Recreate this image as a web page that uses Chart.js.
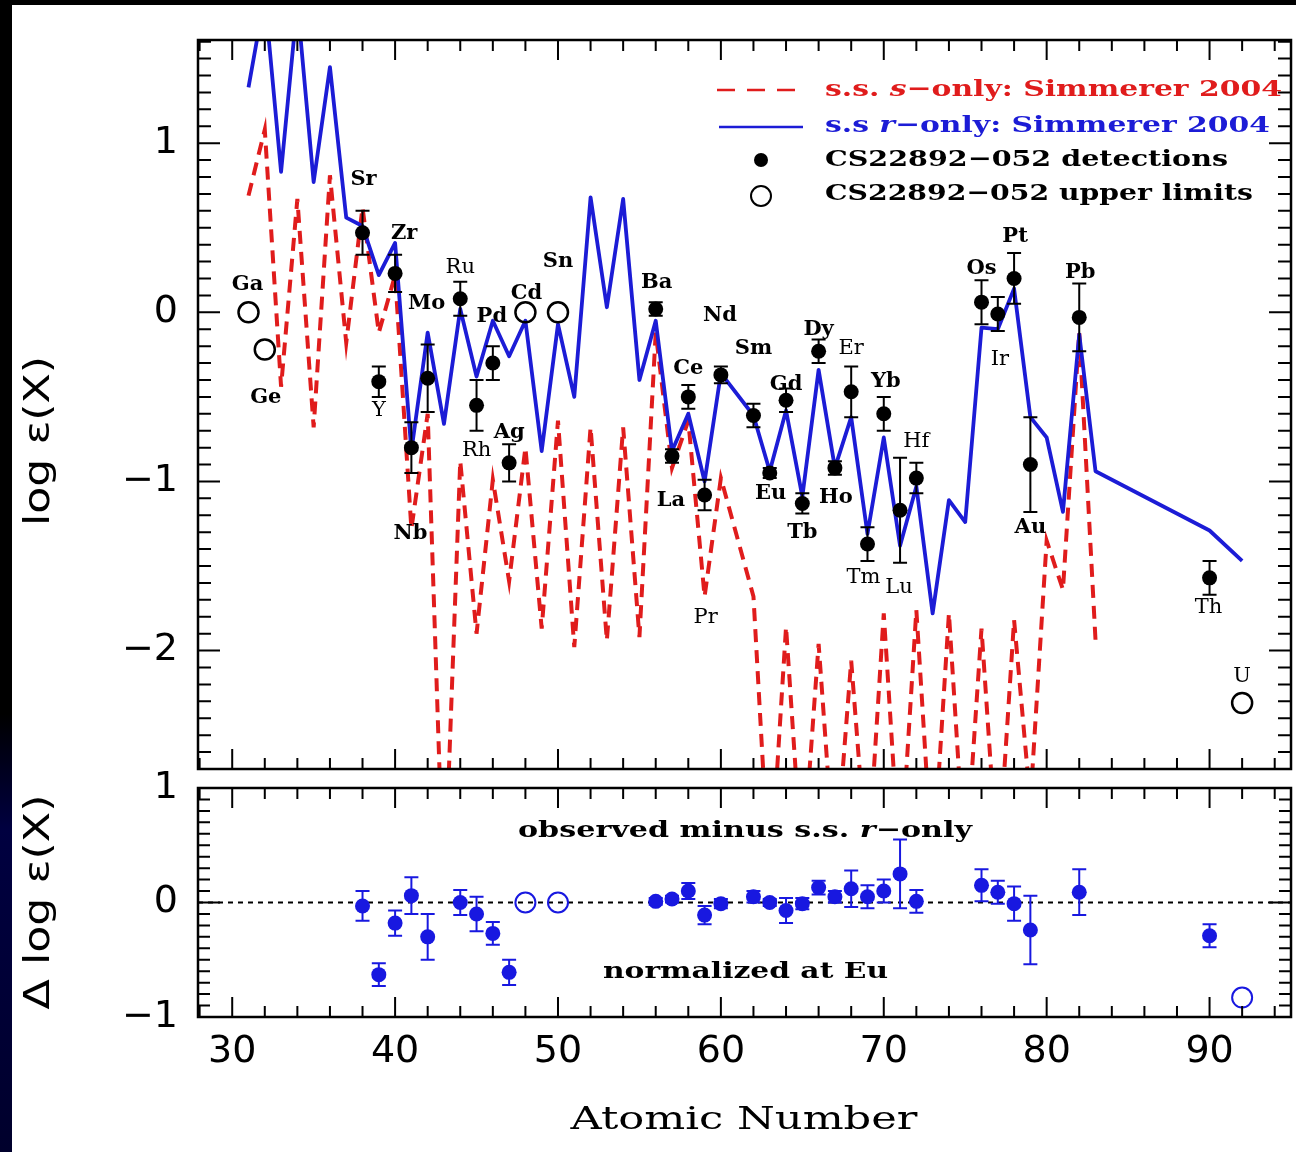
<!DOCTYPE html>
<html>
<head>
<meta charset="utf-8">
<title>CS 22892-052 neutron-capture abundances</title>
<script src="https://cdn.jsdelivr.net/npm/chart.js@4.4.1/dist/chart.umd.min.js"></script>
<style>
  html, body { margin: 0; padding: 0; background: #000; }
  body { width: 1296px; height: 1152px; position: relative; overflow: hidden; }
  #edge { position: absolute; left: 0; top: 0; width: 12px; height: 1152px;
          background: linear-gradient(to bottom, #000 0, #000 62%, #000040 72%, #00002c 100%); }
  #paper { position: absolute; left: 12px; top: 5px; width: 1284px; height: 1147px; background: #fff; }
  canvas { position: absolute; left: 0; }
  #chart-top { top: 0; }
  #chart-bottom { top: 765px; }
</style>
</head>
<body>
<div id="edge"></div>
<div id="paper"></div>
<canvas id="chart-top" width="1296" height="780"></canvas>
<canvas id="chart-bottom" width="1296" height="387"></canvas>
<script>
"use strict";

// ── data ──────────────────────────────────────────────────────────────────────
// scaled solar-system r-only curve (Simmerer 2004), log eps
const R_Z   = [31,32,33,34,35,36,37,38,39,40,41,42,43,44,45,46,47,48,49,50,
               51,52,53,54,55,56,57,58,59,60,62,63,64,65,66,67,68,69,70,71,
               72,73,74,75,76,77,78,79,80,81,82,83,90,92];
const R_EPS = [1.33,1.87,0.83,1.83,0.77,1.45,0.56,0.51,0.22,0.41,
               -0.82,-0.12,-0.66,0.02,-0.38,-0.05,-0.26,-0.05,-0.82,-0.07,
               -0.50,0.68,0.03,0.67,-0.40,-0.05,-0.82,-0.60,-1.00,-0.36,
               -0.61,-0.94,-0.58,-1.09,-0.34,-0.92,-0.62,-1.31,-0.74,-1.38,
               -1.03,-1.78,-1.11,-1.24,-0.09,-0.10,0.14,-0.62,-0.74,-1.18,
               -0.13,-0.94,-1.29,-1.47];

// scaled solar-system s-only curve (Simmerer 2004), log eps
const S_Z   = [31,32,33,34,35,36,37,38,39,40,41,42,43,44,45,46,47,48,49,50,
               51,52,53,54,55,56,57,58,59,60,62,63,64,65,66,67,68,69,70,71,
               72,73,74,75,76,77,78,79,80,81,82,83];
const S_EPS = [0.69,1.08,-0.44,0.67,-0.68,0.81,-0.18,0.62,-0.12,0.22,
               -1.28,-0.60,-3.5,-0.88,-1.90,-0.99,-1.59,-0.80,-1.87,-0.64,
               -1.98,-0.68,-1.94,-0.68,-1.92,-0.12,-0.92,-0.64,-1.68,-0.98,
               -1.68,-3.4,-1.86,-3.3,-1.96,-3.3,-2.06,-3.3,-1.78,-3.3,
               -1.76,-3.3,-1.78,-3.3,-1.87,-3.3,-1.82,-2.9,-1.35,-1.64,
               -0.12,-1.94];

// CS 22892-052 detections
const DET_Z   = [38,39,40,41,42,44,45,46,47,56,57,58,59,60,62,63,
                 64,65,66,67,68,69,70,71,72,76,77,78,79,82,90];
const DET_SYM = ["Sr","Y","Zr","Nb","Mo","Ru","Rh","Pd","Ag","Ba","La","Ce","Pr","Nd","Sm","Eu",
                 "Gd","Tb","Dy","Ho","Er","Tm","Yb","Lu","Hf","Os","Ir","Pt","Au","Pb","Th"];
const DET_EPS = [0.47,-0.41,0.23,-0.80,-0.39,0.08,-0.55,-0.30,-0.89,0.02,-0.85,-0.50,-1.08,-0.37,-0.61,-0.95,
                 -0.52,-1.13,-0.23,-0.92,-0.47,-1.37,-0.60,-1.17,-0.98,0.06,-0.01,0.20,-0.90,-0.03,-1.57];
const DET_ERR = [0.13,0.09,0.11,0.15,0.20,0.10,0.15,0.10,0.11,0.04,0.04,0.07,0.09,0.05,0.07,0.03,
                 0.07,0.06,0.07,0.04,0.15,0.10,0.10,0.31,0.09,0.13,0.10,0.15,0.28,0.20,0.10];

// CS 22892-052 upper limits
const LIM_Z   = [31,32,48,50,92];
const LIM_SYM = ["Ga","Ge","Cd","Sn","U"];
const LIM_EPS = [0.0,-0.22,0.0,0.0,-2.31];

// observed minus s.s. r-only, normalized at Eu (same elements as DET_Z)
const DIFF_EPS = [-0.03,-0.63,-0.18,0.06,-0.30,0.00,-0.10,-0.27,-0.61,0.01,0.03,0.10,-0.11,-0.01,0.05,0.00,
                  -0.07,-0.01,0.13,0.05,0.12,0.05,0.10,0.25,0.01,0.15,0.09,-0.01,-0.24,0.09,-0.29];
const DIFF_ERR = [0.13,0.10,0.11,0.16,0.20,0.11,0.15,0.10,0.11,0.03,0.03,0.07,0.08,0.04,0.05,0.03,
                  0.11,0.05,0.06,0.05,0.16,0.10,0.10,0.30,0.10,0.14,0.10,0.15,0.30,0.20,0.10];
const DIFF_LIM_Z   = [48,50,92];
const DIFF_LIM_EPS = [0.0,0.0,-0.83];

const X_TICKS     = [30,40,50,60,70,80,90];
const Y_TICKS_TOP = [-2,-1,0,1];
const Y_TICKS_BOT = [-1,0,1];

// ── look ───────────────────────────────────────────────────────────────────────
const SERIF = "'DejaVu Serif', serif";
const SANS  = "'DejaVu Sans', sans-serif";
const RED   = "#e01c1c";
const BLUE  = "#1c1cd6";
const PBLUE = "#1818e0";
const CAP   = 7;
const BOTTOM_TOP = 765;   // page y of the lower canvas

// element label offsets from their point, px
const LABEL_OFFSET = {
  Ga:[-1,-28], Ge:[1,48], Sr:[1,-53], Y:[0,29], Zr:[9,-40], Nb:[-1,86], Mo:[-1,-75],
  Ru:[0,-31], Rh:[0,45], Pd:[-1,-47], Ag:[0,-30], Cd:[1,-19], Sn:[0,-51], Ba:[1,-26],
  La:[-1,44], Ce:[0,-28], Pr:[1,123], Nd:[-1,-59], Sm:[0,-67], Eu:[1,21], Gd:[0,-16],
  Tb:[0,29], Dy:[0,-22], Ho:[1,30], Er:[0,-43], Tm:[-4,34], Yb:[2,-32], Lu:[-1,77],
  Hf:[0,-37], Os:[0,-34], Ir:[2,46], Pt:[1,-42], Au:[0,63], Pb:[1,-45], Th:[-1,30], U:[0,-26],
};
const LIGHT = ["Y","Ru","Rh","Pr","Er","Tm","Lu","Hf","Ir","Th","U"];

// ── helpers ────────────────────────────────────────────────────────────────────
const pts = (zs, vs) => zs.map((z, i) => ({ x: z, y: vs[i] }));
const fmt = v => (v < 0 ? "\u2212" + Math.abs(v) : String(v));

// text squeezed/stretched to a given width; segs = [[text, italic], ...]
function drawFitted(ctx, segs, o) {
  const { x, y, width, size, family = SERIF, weight = "bold", color = "#000", align = "left", rotate = 0 } = o;
  ctx.save();
  ctx.translate(x, y);
  if (rotate) ctx.rotate(rotate);
  ctx.fillStyle = color;
  ctx.textBaseline = "middle";
  ctx.textAlign = "left";
  const fonts = segs.map(([, it]) => `${it ? "italic " : ""}${weight} ${size}px ${family}`);
  const widths = segs.map(([t], i) => { ctx.font = fonts[i]; return ctx.measureText(t).width; });
  const natural = widths.reduce((a, b) => a + b, 0);
  ctx.scale(width / natural, 1);
  let cx = align === "center" ? -natural / 2 : 0;
  segs.forEach(([t], i) => { ctx.font = fonts[i]; ctx.fillText(t, cx, 0); cx += widths[i]; });
  ctx.restore();
}

// box plus inward ticks on all four sides
function drawFrame(chart, o) {
  const { ctx, chartArea: a, scales: { x, y } } = chart;
  ctx.save();
  ctx.strokeStyle = "#000";
  ctx.lineWidth = 2;
  ctx.beginPath();
  for (let v = Math.ceil(x.min / 2) * 2; v <= x.max; v += 2) {
    const px = x.getPixelForValue(v);
    const len = v % 10 === 0 ? o.xMajor : o.xMinor;
    ctx.moveTo(px, a.bottom); ctx.lineTo(px, a.bottom - len);
    ctx.moveTo(px, a.top);    ctx.lineTo(px, a.top + len);
  }
  for (let k = Math.ceil(y.min * 10 - 1e-6); k <= Math.floor(y.max * 10 + 1e-6); k++) {
    const py = y.getPixelForValue(k / 10);
    const len = k % 10 === 0 ? o.yMajor : o.yMinor;
    ctx.moveTo(a.left, py);  ctx.lineTo(a.left + len, py);
    ctx.moveTo(a.right, py); ctx.lineTo(a.right - len, py);
  }
  ctx.stroke();
  ctx.lineWidth = 2.5;
  ctx.strokeRect(a.left, a.top, a.right - a.left, a.bottom - a.top);
  ctx.restore();
}

function drawErrorBars(chart, zs, vals, errs, color) {
  const { ctx, scales: { x, y } } = chart;
  ctx.save();
  ctx.strokeStyle = color;
  ctx.lineWidth = 2;
  ctx.beginPath();
  zs.forEach((z, i) => {
    const px = x.getPixelForValue(z);
    const y1 = y.getPixelForValue(vals[i] + errs[i]);
    const y2 = y.getPixelForValue(vals[i] - errs[i]);
    ctx.moveTo(px, y1); ctx.lineTo(px, y2);
    ctx.moveTo(px - CAP, y1); ctx.lineTo(px + CAP, y1);
    ctx.moveTo(px - CAP, y2); ctx.lineTo(px + CAP, y2);
  });
  ctx.stroke();
  ctx.restore();
}

function drawLegend(ctx) {
  ctx.save();
  ctx.lineWidth = 2.5;
  ctx.strokeStyle = RED;
  ctx.setLineDash([18, 12]);
  ctx.beginPath(); ctx.moveTo(717, 90); ctx.lineTo(801, 90); ctx.stroke();
  ctx.setLineDash([]);
  ctx.strokeStyle = BLUE;
  ctx.beginPath(); ctx.moveTo(719, 127); ctx.lineTo(803, 127); ctx.stroke();
  ctx.fillStyle = "#000";
  ctx.beginPath(); ctx.arc(761, 160, 7, 0, 2 * Math.PI); ctx.fill();
  ctx.strokeStyle = "#000";
  ctx.lineWidth = 2;
  ctx.beginPath(); ctx.arc(761, 196, 10, 0, 2 * Math.PI); ctx.stroke();
  ctx.restore();

  drawFitted(ctx, [["s.s. ", false], ["s", true], ["\u2212only: Simmerer 2004", false]],
             { x: 825, y: 90, width: 457, size: 23, color: RED });
  drawFitted(ctx, [["s.s ", false], ["r", true], ["\u2212only: Simmerer 2004", false]],
             { x: 825, y: 126, width: 445, size: 23, color: BLUE });
  drawFitted(ctx, [["CS22892\u2212052 detections", false]], { x: 825, y: 160, width: 403, size: 23 });
  drawFitted(ctx, [["CS22892\u2212052 upper limits", false]], { x: 825, y: 194, width: 428, size: 23 });
}

const fixWidth  = w => s => { s.width = w; s.paddingTop = 0; s.paddingBottom = 0; };
const fixHeight = h => s => { s.height = h; s.paddingLeft = 0; s.paddingRight = 0; };

// ── plugins ────────────────────────────────────────────────────────────────────
const topDecor = {
  id: "topDecor",
  beforeDatasetDraw(chart, args) {
    if (args.index === 0) drawErrorBars(chart, DET_Z, DET_EPS, DET_ERR, "#000");
  },
  afterDraw(chart) {
    const { ctx, scales: { x, y } } = chart;
    drawFrame(chart, { xMajor: 20, xMinor: 11, yMajor: 22, yMinor: 13 });

    ctx.save();
    ctx.textAlign = "center";
    ctx.textBaseline = "middle";
    ctx.fillStyle = "#000";
    const put = (z, v, sym) => {
      const [dx, dy] = LABEL_OFFSET[sym];
      ctx.font = `${LIGHT.includes(sym) ? "normal" : "bold"} 21px ${SERIF}`;
      ctx.fillText(sym, x.getPixelForValue(z) + dx, y.getPixelForValue(v) + dy);
    };
    DET_Z.forEach((z, i) => put(z, DET_EPS[i], DET_SYM[i]));
    LIM_Z.forEach((z, i) => put(z, LIM_EPS[i], LIM_SYM[i]));
    ctx.restore();

    drawLegend(ctx);
    drawFitted(ctx, [["log \u03b5(X)", false]],
               { x: 40, y: 441, width: 170, size: 36, family: SANS, weight: "normal", align: "center", rotate: -Math.PI / 2 });
  },
};

const bottomDecor = {
  id: "bottomDecor",
  beforeDatasetsDraw(chart) {
    const { ctx, chartArea: a, scales: { y } } = chart;
    const py = y.getPixelForValue(0);
    ctx.save();
    ctx.strokeStyle = "#000";
    ctx.lineWidth = 2;
    ctx.setLineDash([5, 5]);
    ctx.beginPath(); ctx.moveTo(a.left, py); ctx.lineTo(a.right, py); ctx.stroke();
    ctx.restore();
  },
  beforeDatasetDraw(chart, args) {
    if (args.index === 0) drawErrorBars(chart, DET_Z, DIFF_EPS, DIFF_ERR, PBLUE);
  },
  afterDraw(chart) {
    const { ctx } = chart;
    drawFrame(chart, { xMajor: 20, xMinor: 11, yMajor: 22, yMinor: 12 });
    const t = BOTTOM_TOP;
    drawFitted(ctx, [["observed minus s.s. ", false], ["r", true], ["\u2212only", false]],
               { x: 518, y: 831 - t, width: 454, size: 23 });
    drawFitted(ctx, [["normalized at Eu", false]], { x: 603, y: 972 - t, width: 285, size: 23 });
    drawFitted(ctx, [["\u0394 log \u03b5(X)", false]],
               { x: 40, y: 902 - t, width: 215, size: 36, family: SANS, weight: "normal", align: "center", rotate: -Math.PI / 2 });
    drawFitted(ctx, [["Atomic Number", false]],
               { x: 744, y: 1121 - t, width: 347, size: 32, weight: "normal", align: "center" });
  },
};

// ── charts ─────────────────────────────────────────────────────────────────────
const baseOpts = {
  responsive: false,
  animation: false,
  events: [],
  plugins: { legend: { display: false }, tooltip: { enabled: false } },
};
const noGrid = { display: false, drawTicks: false };

new Chart(document.getElementById("chart-top"), {
  type: "scatter",
  data: {
    datasets: [
      { label: "detections", data: pts(DET_Z, DET_EPS), pointRadius: 7.5,
        pointBackgroundColor: "#000", pointBorderColor: "#000", pointBorderWidth: 0, clip: false },
      { label: "upper limits", data: pts(LIM_Z, LIM_EPS), pointRadius: 10,
        pointBackgroundColor: "rgba(255,255,255,0)", pointBorderColor: "#000", pointBorderWidth: 2.5, clip: false },
      { label: "r-only", data: pts(R_Z, R_EPS), showLine: true, borderColor: BLUE, borderWidth: 3.8,
        borderJoinStyle: "round", pointRadius: 0, clip: 0 },
      { label: "s-only", data: pts(S_Z, S_EPS), showLine: true, borderColor: RED, borderWidth: 4,
        borderDash: [13, 8], pointRadius: 0, clip: 0 },
    ],
  },
  options: {
    ...baseOpts,
    layout: { autoPadding: false, padding: { left: 0, right: 5, top: 40, bottom: 0 } },
    scales: {
      x: { type: "linear", min: 27.9, max: 95, grid: noGrid, border: { display: false },
           ticks: { display: false }, afterFit: fixHeight(11) },
      y: { type: "linear", min: -2.7, max: 1.61, grid: noGrid, border: { display: false },
           afterBuildTicks: s => { s.ticks = Y_TICKS_TOP.map(v => ({ value: v })); },
           ticks: { color: "#000", padding: 20, font: { family: SANS, size: 38 }, callback: fmt },
           afterFit: fixWidth(198) },
    },
  },
  plugins: [topDecor],
});

new Chart(document.getElementById("chart-bottom"), {
  type: "scatter",
  data: {
    datasets: [
      { label: "difference", data: pts(DET_Z, DIFF_EPS), pointRadius: 7.5,
        pointBackgroundColor: PBLUE, pointBorderColor: PBLUE, pointBorderWidth: 0, clip: false },
      { label: "difference limits", data: pts(DIFF_LIM_Z, DIFF_LIM_EPS), pointRadius: 10,
        pointBackgroundColor: "rgba(255,255,255,0)", pointBorderColor: PBLUE, pointBorderWidth: 2, clip: false },
    ],
  },
  options: {
    ...baseOpts,
    layout: { autoPadding: false, padding: { left: 0, right: 5, top: 788 - BOTTOM_TOP, bottom: 0 } },
    scales: {
      x: { type: "linear", min: 27.9, max: 95, grid: noGrid, border: { display: false },
           afterBuildTicks: s => { s.ticks = X_TICKS.map(v => ({ value: v })); },
           ticks: { color: "#000", padding: 12, maxRotation: 0, font: { family: SANS, size: 38 } },
           afterFit: fixHeight(387 - (1017 - BOTTOM_TOP)) },
      y: { type: "linear", min: -1, max: 1, grid: noGrid, border: { display: false },
           afterBuildTicks: s => { s.ticks = Y_TICKS_BOT.map(v => ({ value: v })); },
           ticks: { color: "#000", padding: 20, font: { family: SANS, size: 38 }, callback: fmt },
           afterFit: fixWidth(198) },
    },
  },
  plugins: [bottomDecor],
});
</script>
</body>
</html>
